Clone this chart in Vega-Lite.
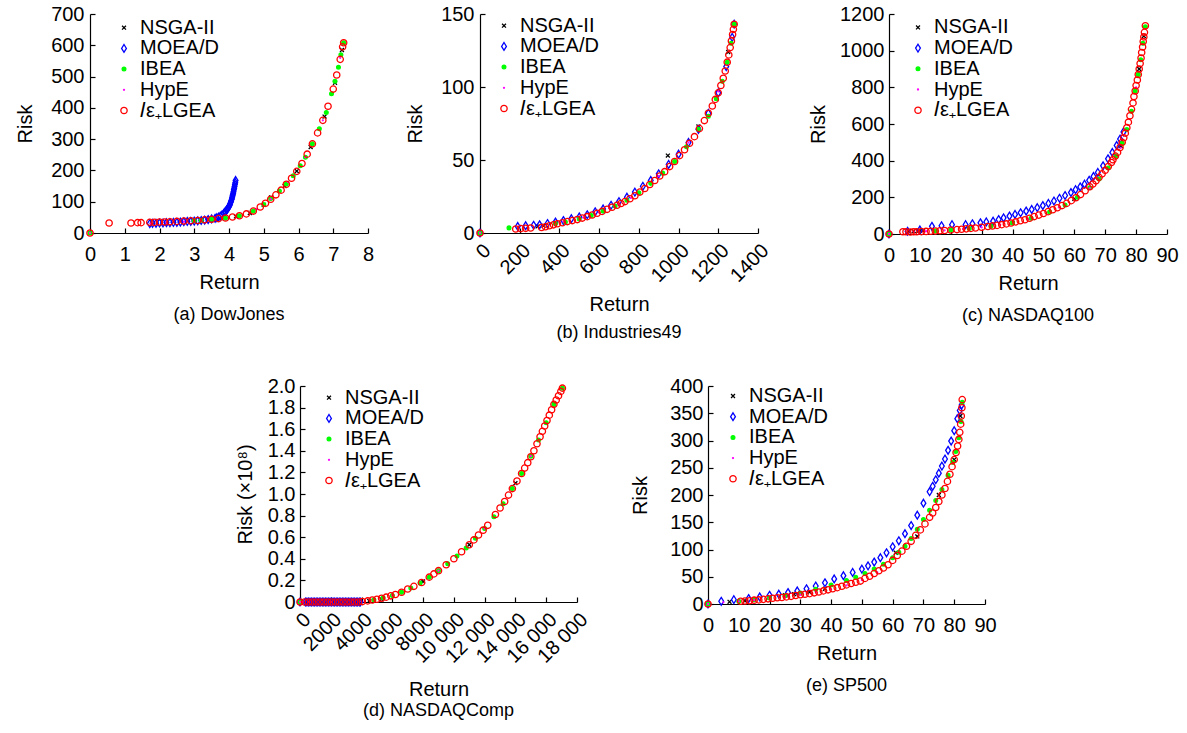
{
"$schema":"https://vega.github.io/schema/vega-lite/v6.json",
"background":"white",
"padding":{"left":15,"top":4,"right":5,"bottom":5},
"config":{
 "font":"Liberation Sans",
 "view":{"stroke":null},
 "axis":{"domainColor":"#000","tickColor":"#000","labelColor":"#000","titleColor":"#000","labelFontSize":20,"titleFontSize":20,"titleFontWeight":"normal","grid":false,"tickSize":-5,"labelFlush":false,"labelOverlap":false,"domainWidth":1.2,"tickWidth":1.2},
 "axisY":{"titlePadding":15,"labelPadding":11},
 "axisX":{"titlePadding":8,"labelPadding":16},
 "title":{"fontSize":18,"fontWeight":"normal","color":"#000","orient":"bottom","offset":14},
 "legend":{"orient":"none","labelFontSize":20,"labelColor":"#000","rowPadding":0.7,"labelOffset":6,"symbolStrokeWidth":1.3,"padding":0},
 "point":{"strokeWidth":1.3,"opacity":1}
},
"datasets":{
"a":[
{"s":"N","x":0,"y":0},{"s":"N","x":3.85,"y":48},{"s":"N","x":4.2,"y":53},{"s":"N","x":4.6,"y":64},{"s":"N","x":5.0,"y":90},{"s":"N","x":5.21,"y":114},{"s":"N","x":5.6,"y":150},{"s":"N","x":5.95,"y":198},{"s":"N","x":6.35,"y":275},{"s":"N","x":6.75,"y":372},{"s":"N","x":7.05,"y":480},{"s":"N","x":7.25,"y":585},
{"s":"M","x":1.72,"y":30},{"s":"M","x":1.8,"y":31},{"s":"M","x":1.9,"y":31},{"s":"M","x":2.0,"y":32},{"s":"M","x":2.1,"y":32},{"s":"M","x":2.2,"y":33},{"s":"M","x":2.3,"y":33},{"s":"M","x":2.4,"y":34},{"s":"M","x":2.5,"y":34},{"s":"M","x":2.6,"y":35},{"s":"M","x":2.7,"y":36},{"s":"M","x":2.8,"y":37},{"s":"M","x":2.9,"y":37},{"s":"M","x":3.0,"y":38},{"s":"M","x":3.1,"y":39},{"s":"M","x":3.2,"y":40},{"s":"M","x":3.3,"y":41},{"s":"M","x":3.4,"y":43},{"s":"M","x":3.5,"y":45},{"s":"M","x":3.6,"y":47},{"s":"M","x":3.65,"y":49},{"s":"M","x":3.7,"y":51},{"s":"M","x":3.75,"y":54},{"s":"M","x":3.8,"y":58},{"s":"M","x":3.85,"y":63},{"s":"M","x":3.88,"y":66},{"s":"M","x":3.9,"y":69},{"s":"M","x":3.93,"y":73},{"s":"M","x":3.95,"y":76},{"s":"M","x":3.98,"y":81},{"s":"M","x":4.0,"y":85},{"s":"M","x":4.02,"y":89},{"s":"M","x":4.03,"y":93},{"s":"M","x":4.05,"y":98},{"s":"M","x":4.06,"y":102},{"s":"M","x":4.08,"y":108},{"s":"M","x":4.09,"y":113},{"s":"M","x":4.1,"y":118},{"s":"M","x":4.11,"y":122},{"s":"M","x":4.12,"y":127},{"s":"M","x":4.13,"y":132},{"s":"M","x":4.14,"y":138},{"s":"M","x":4.15,"y":143},{"s":"M","x":4.16,"y":149},{"s":"M","x":4.17,"y":155},{"s":"M","x":4.18,"y":161},{"s":"M","x":4.19,"y":168},
{"s":"I","x":0,"y":0},{"s":"I","x":3.0,"y":39},{"s":"I","x":3.2,"y":41},{"s":"I","x":3.5,"y":44},{"s":"I","x":3.9,"y":48},{"s":"I","x":4.3,"y":55},{"s":"I","x":4.7,"y":70},{"s":"I","x":5.0,"y":91},{"s":"I","x":5.2,"y":110},{"s":"I","x":5.45,"y":134},{"s":"I","x":5.65,"y":157},{"s":"I","x":5.85,"y":183},{"s":"I","x":6.05,"y":215},{"s":"I","x":6.2,"y":242},{"s":"I","x":6.4,"y":285},{"s":"I","x":6.6,"y":333},{"s":"I","x":6.8,"y":385},{"s":"I","x":6.95,"y":445},{"s":"I","x":7.05,"y":485},{"s":"I","x":7.15,"y":530},{"s":"I","x":7.22,"y":570},{"s":"I","x":7.3,"y":608},
{"s":"H","x":0,"y":0},{"s":"H","x":1.75,"y":30},{"s":"H","x":2.2,"y":33},{"s":"H","x":2.7,"y":36},{"s":"H","x":3.2,"y":40},{"s":"H","x":3.6,"y":44},{"s":"H","x":4.0,"y":49},{"s":"H","x":4.4,"y":57},{"s":"H","x":4.8,"y":76},{"s":"H","x":5.2,"y":108},{"s":"H","x":5.7,"y":163},{"s":"H","x":6.2,"y":242},{"s":"H","x":6.7,"y":360},{"s":"H","x":7.2,"y":560},
{"s":"L","x":0,"y":0},{"s":"L","x":0.55,"y":32},{"s":"L","x":1.18,"y":32},{"s":"L","x":1.37,"y":33},{"s":"L","x":1.47,"y":33},{"s":"L","x":1.72,"y":34},{"s":"L","x":1.85,"y":34},{"s":"L","x":2.0,"y":35},{"s":"L","x":2.15,"y":35},{"s":"L","x":2.3,"y":36},{"s":"L","x":2.5,"y":37},{"s":"L","x":2.7,"y":38},{"s":"L","x":2.9,"y":39},{"s":"L","x":3.1,"y":40},{"s":"L","x":3.3,"y":42},{"s":"L","x":3.5,"y":44},{"s":"L","x":3.7,"y":46},{"s":"L","x":3.9,"y":48},{"s":"L","x":4.1,"y":51},{"s":"L","x":4.3,"y":55},{"s":"L","x":4.5,"y":61},{"s":"L","x":4.7,"y":70},{"s":"L","x":4.9,"y":83},{"s":"L","x":5.05,"y":95},{"s":"L","x":5.2,"y":108},{"s":"L","x":5.35,"y":122},{"s":"L","x":5.5,"y":137},{"s":"L","x":5.65,"y":156},{"s":"L","x":5.8,"y":175},{"s":"L","x":5.95,"y":197},{"s":"L","x":6.1,"y":222},{"s":"L","x":6.25,"y":252},{"s":"L","x":6.4,"y":285},{"s":"L","x":6.55,"y":320},{"s":"L","x":6.7,"y":360},{"s":"L","x":6.85,"y":405},{"s":"L","x":7.0,"y":460},{"s":"L","x":7.1,"y":505},{"s":"L","x":7.2,"y":555},{"s":"L","x":7.27,"y":595},{"s":"L","x":7.3,"y":608}
],
"b":[
{"s":"N","x":0,"y":0},{"s":"N","x":290,"y":4.5},{"s":"N","x":320,"y":5},{"s":"N","x":946,"y":53},{"s":"N","x":1100,"y":73},{"s":"N","x":1250,"y":124},
{"s":"M","x":0,"y":0},{"s":"M","x":190,"y":4.5},{"s":"M","x":230,"y":5},{"s":"M","x":270,"y":5.3},{"s":"M","x":300,"y":5.6},{"s":"M","x":340,"y":6.5},{"s":"M","x":380,"y":7.5},{"s":"M","x":420,"y":8.5},{"s":"M","x":460,"y":9.8},{"s":"M","x":500,"y":11},{"s":"M","x":540,"y":12.5},{"s":"M","x":580,"y":14.5},{"s":"M","x":620,"y":16.5},{"s":"M","x":660,"y":19},{"s":"M","x":700,"y":21.5},{"s":"M","x":740,"y":24.5},{"s":"M","x":780,"y":28},{"s":"M","x":820,"y":32},{"s":"M","x":860,"y":36},{"s":"M","x":900,"y":40.5},{"s":"M","x":950,"y":47},{"s":"M","x":1000,"y":54},{"s":"M","x":1050,"y":62},{"s":"M","x":1100,"y":71},{"s":"M","x":1150,"y":82},{"s":"M","x":1200,"y":96},{"s":"M","x":1240,"y":114},{"s":"M","x":1270,"y":134},{"s":"M","x":1280,"y":143},
{"s":"I","x":0,"y":0},{"s":"I","x":146,"y":3.5},{"s":"I","x":380,"y":6.5},{"s":"I","x":430,"y":7.5},{"s":"I","x":500,"y":9.6},{"s":"I","x":560,"y":12},{"s":"I","x":620,"y":15},{"s":"I","x":680,"y":18.5},{"s":"I","x":740,"y":22.5},{"s":"I","x":800,"y":27.5},{"s":"I","x":860,"y":34},{"s":"I","x":920,"y":41},{"s":"I","x":980,"y":49},{"s":"I","x":1040,"y":59},{"s":"I","x":1100,"y":71},{"s":"I","x":1150,"y":80},{"s":"I","x":1190,"y":92},{"s":"I","x":1220,"y":104},{"s":"I","x":1245,"y":117},{"s":"I","x":1265,"y":130},{"s":"I","x":1280,"y":143},
{"s":"H","x":0,"y":0},{"s":"H","x":420,"y":7.8},{"s":"H","x":520,"y":10.5},{"s":"H","x":600,"y":14},{"s":"H","x":650,"y":17},{"s":"H","x":700,"y":20},{"s":"H","x":760,"y":24},{"s":"H","x":900,"y":39},{"s":"H","x":1050,"y":62},{"s":"H","x":1200,"y":97},
{"s":"L","x":0,"y":0},{"s":"L","x":180,"y":2.7},{"s":"L","x":205,"y":3},{"s":"L","x":230,"y":3.2},{"s":"L","x":255,"y":3.4},{"s":"L","x":310,"y":3.8},{"s":"L","x":330,"y":4.3},{"s":"L","x":350,"y":5},{"s":"L","x":370,"y":5.6},{"s":"L","x":390,"y":6.3},{"s":"L","x":415,"y":7},{"s":"L","x":440,"y":7.8},{"s":"L","x":465,"y":8.5},{"s":"L","x":490,"y":9.2},{"s":"L","x":515,"y":10.2},{"s":"L","x":540,"y":11.2},{"s":"L","x":565,"y":12.3},{"s":"L","x":590,"y":13.5},{"s":"L","x":615,"y":14.8},{"s":"L","x":640,"y":16.2},{"s":"L","x":665,"y":17.6},{"s":"L","x":690,"y":19},{"s":"L","x":710,"y":20.2},{"s":"L","x":730,"y":21.5},{"s":"L","x":755,"y":23.5},{"s":"L","x":780,"y":25.5},{"s":"L","x":805,"y":28},{"s":"L","x":830,"y":30.5},{"s":"L","x":855,"y":33.2},{"s":"L","x":880,"y":36},{"s":"L","x":905,"y":39},{"s":"L","x":930,"y":42},{"s":"L","x":955,"y":45.5},{"s":"L","x":980,"y":49},{"s":"L","x":1005,"y":53},{"s":"L","x":1030,"y":57},{"s":"L","x":1055,"y":61.5},{"s":"L","x":1080,"y":66},{"s":"L","x":1105,"y":71.5},{"s":"L","x":1130,"y":77},{"s":"L","x":1150,"y":82},{"s":"L","x":1170,"y":87},{"s":"L","x":1185,"y":91.5},{"s":"L","x":1200,"y":96},{"s":"L","x":1213,"y":101},{"s":"L","x":1225,"y":106},{"s":"L","x":1235,"y":111},{"s":"L","x":1245,"y":117},{"s":"L","x":1253,"y":122},{"s":"L","x":1260,"y":127},{"s":"L","x":1266,"y":131.5},{"s":"L","x":1272,"y":136},{"s":"L","x":1276,"y":139.5},{"s":"L","x":1280,"y":143}
],
"c":[
{"s":"N","x":0,"y":0},{"s":"N","x":6.4,"y":15},{"s":"N","x":8,"y":16},{"s":"N","x":9.5,"y":16},{"s":"N","x":11,"y":18},{"s":"N","x":40,"y":62},{"s":"N","x":60,"y":192},{"s":"N","x":75,"y":480},{"s":"N","x":81,"y":900},{"s":"N","x":82.5,"y":1080},
{"s":"M","x":0,"y":0},{"s":"M","x":6,"y":15},{"s":"M","x":10,"y":22},{"s":"M","x":13.9,"y":42},{"s":"M","x":17,"y":45},{"s":"M","x":20.4,"y":51},{"s":"M","x":24.8,"y":51},{"s":"M","x":27,"y":56},{"s":"M","x":29.6,"y":61},{"s":"M","x":31.5,"y":66},{"s":"M","x":33.7,"y":70},{"s":"M","x":35.5,"y":79},{"s":"M","x":37.1,"y":88},{"s":"M","x":39,"y":98},{"s":"M","x":40.8,"y":107},{"s":"M","x":42.6,"y":116},{"s":"M","x":44.4,"y":125},{"s":"M","x":46.2,"y":134},{"s":"M","x":48,"y":144},{"s":"M","x":49.8,"y":155},{"s":"M","x":51.6,"y":167},{"s":"M","x":53.4,"y":180},{"s":"M","x":55.2,"y":195},{"s":"M","x":57,"y":210},{"s":"M","x":58.9,"y":226},{"s":"M","x":60.4,"y":242},{"s":"M","x":61.9,"y":257},{"s":"M","x":63.3,"y":272},{"s":"M","x":64.8,"y":293},{"s":"M","x":66.2,"y":314},{"s":"M","x":67.6,"y":336},{"s":"M","x":69.3,"y":372},{"s":"M","x":70.9,"y":410},{"s":"M","x":72.3,"y":445},{"s":"M","x":73.7,"y":483},{"s":"M","x":74.8,"y":518},{"s":"M","x":75.9,"y":557},
{"s":"I","x":0,"y":0},{"s":"I","x":15,"y":16},{"s":"I","x":20,"y":22},{"s":"I","x":26,"y":30},{"s":"I","x":33,"y":42},{"s":"I","x":40,"y":60},{"s":"I","x":46,"y":86},{"s":"I","x":52,"y":120},{"s":"I","x":57,"y":158},{"s":"I","x":61,"y":200},{"s":"I","x":65,"y":252},{"s":"I","x":68,"y":300},{"s":"I","x":71,"y":360},{"s":"I","x":73.5,"y":425},{"s":"I","x":75.5,"y":495},{"s":"I","x":77,"y":570},{"s":"I","x":78.5,"y":670},{"s":"I","x":79.7,"y":780},{"s":"I","x":80.7,"y":870},{"s":"I","x":81.5,"y":950},{"s":"I","x":82.2,"y":1040},{"s":"I","x":83,"y":1130},
{"s":"H","x":0,"y":0},{"s":"H","x":8,"y":13},{"s":"H","x":12,"y":15},{"s":"H","x":18,"y":20},{"s":"H","x":24,"y":27},{"s":"H","x":30,"y":36},{"s":"H","x":36,"y":50},{"s":"H","x":45,"y":82},{"s":"H","x":55,"y":145},{"s":"H","x":65,"y":250},{"s":"H","x":75,"y":470},{"s":"H","x":80,"y":800},
{"s":"L","x":0,"y":0},{"s":"L","x":4.5,"y":12},{"s":"L","x":5.5,"y":12},{"s":"L","x":6.9,"y":11},{"s":"L","x":8,"y":12},{"s":"L","x":9,"y":12},{"s":"L","x":10.5,"y":13},{"s":"L","x":12,"y":14},{"s":"L","x":13.5,"y":15},{"s":"L","x":15,"y":16},{"s":"L","x":16.5,"y":17.5},{"s":"L","x":18,"y":19},{"s":"L","x":20,"y":21.5},{"s":"L","x":22,"y":24},{"s":"L","x":23.5,"y":26},{"s":"L","x":25,"y":28},{"s":"L","x":26.5,"y":30.5},{"s":"L","x":28,"y":33},{"s":"L","x":30,"y":36.5},{"s":"L","x":32,"y":41},{"s":"L","x":33.5,"y":44},{"s":"L","x":35,"y":47},{"s":"L","x":36.5,"y":51},{"s":"L","x":38,"y":55},{"s":"L","x":39.5,"y":60},{"s":"L","x":41,"y":66},{"s":"L","x":42.5,"y":72},{"s":"L","x":44,"y":78},{"s":"L","x":45.5,"y":86},{"s":"L","x":47,"y":95},{"s":"L","x":48.5,"y":103},{"s":"L","x":50,"y":112},{"s":"L","x":51.5,"y":122},{"s":"L","x":53,"y":132},{"s":"L","x":54.5,"y":143},{"s":"L","x":56,"y":155},{"s":"L","x":57.5,"y":167},{"s":"L","x":59,"y":182},{"s":"L","x":60.5,"y":198},{"s":"L","x":62,"y":215},{"s":"L","x":63.5,"y":236},{"s":"L","x":65,"y":258},{"s":"L","x":66,"y":273},{"s":"L","x":67,"y":290},{"s":"L","x":68,"y":309},{"s":"L","x":69,"y":328},{"s":"L","x":70,"y":348},{"s":"L","x":71,"y":368},{"s":"L","x":72,"y":390},{"s":"L","x":72.5,"y":405},{"s":"L","x":73.3,"y":425},{"s":"L","x":74,"y":445},{"s":"L","x":74.8,"y":472},{"s":"L","x":75.5,"y":500},{"s":"L","x":76,"y":525},{"s":"L","x":76.5,"y":550},{"s":"L","x":77,"y":580},{"s":"L","x":77.5,"y":610},{"s":"L","x":78,"y":645},{"s":"L","x":78.5,"y":680},{"s":"L","x":79,"y":715},{"s":"L","x":79.3,"y":750},{"s":"L","x":79.7,"y":780},{"s":"L","x":80,"y":810},{"s":"L","x":80.4,"y":840},{"s":"L","x":80.7,"y":870},{"s":"L","x":81,"y":900},{"s":"L","x":81.3,"y":930},{"s":"L","x":81.6,"y":960},{"s":"L","x":81.8,"y":990},{"s":"L","x":82.1,"y":1020},{"s":"L","x":82.3,"y":1050},{"s":"L","x":82.5,"y":1075},{"s":"L","x":82.7,"y":1100},{"s":"L","x":83,"y":1136}
],
"d":[
{"s":"N","x":0,"y":0},{"s":"N","x":4500,"y":0.01},{"s":"N","x":5300,"y":0.025},{"s":"N","x":8000,"y":0.19},{"s":"N","x":11000,"y":0.53},{"s":"N","x":14000,"y":1.1},{"s":"N","x":16500,"y":1.83},
{"s":"M","x":0,"y":0},{"s":"M","x":350,"y":0},{"s":"M","x":450,"y":0},{"s":"M","x":550,"y":0},{"s":"M","x":650,"y":0},{"s":"M","x":750,"y":0},{"s":"M","x":850,"y":0},{"s":"M","x":950,"y":0},{"s":"M","x":1050,"y":0},{"s":"M","x":1150,"y":0},{"s":"M","x":1250,"y":0},{"s":"M","x":1350,"y":0},{"s":"M","x":1450,"y":0},{"s":"M","x":1550,"y":0},{"s":"M","x":1650,"y":0},{"s":"M","x":1750,"y":0},{"s":"M","x":1850,"y":0},{"s":"M","x":1950,"y":0},{"s":"M","x":2050,"y":0},{"s":"M","x":2150,"y":0},{"s":"M","x":2250,"y":0},{"s":"M","x":2350,"y":0},{"s":"M","x":2450,"y":0},{"s":"M","x":2550,"y":0},{"s":"M","x":2650,"y":0},{"s":"M","x":2750,"y":0},{"s":"M","x":2850,"y":0},{"s":"M","x":2950,"y":0},{"s":"M","x":3050,"y":0},{"s":"M","x":3150,"y":0},{"s":"M","x":3250,"y":0},{"s":"M","x":3350,"y":0},{"s":"M","x":3450,"y":0},{"s":"M","x":3550,"y":0},{"s":"M","x":3650,"y":0},{"s":"M","x":3750,"y":0},{"s":"M","x":3850,"y":0},{"s":"M","x":3920,"y":0},
{"s":"I","x":0,"y":0},{"s":"I","x":4800,"y":0.02},{"s":"I","x":5400,"y":0.04},{"s":"I","x":6000,"y":0.06},{"s":"I","x":6600,"y":0.09},{"s":"I","x":7200,"y":0.13},{"s":"I","x":7800,"y":0.175},{"s":"I","x":8400,"y":0.23},{"s":"I","x":9000,"y":0.29},{"s":"I","x":9600,"y":0.355},{"s":"I","x":10200,"y":0.425},{"s":"I","x":10800,"y":0.5},{"s":"I","x":11400,"y":0.59},{"s":"I","x":12000,"y":0.68},{"s":"I","x":12600,"y":0.79},{"s":"I","x":13200,"y":0.91},{"s":"I","x":13800,"y":1.05},{"s":"I","x":14400,"y":1.19},{"s":"I","x":15000,"y":1.35},{"s":"I","x":15500,"y":1.5},{"s":"I","x":16000,"y":1.66},{"s":"I","x":16500,"y":1.83},{"s":"I","x":17050,"y":1.98},
{"s":"H","x":0,"y":0},{"s":"H","x":200,"y":0},{"s":"H","x":600,"y":0.0},{"s":"H","x":2000,"y":0},{"s":"H","x":4200,"y":0.005},{"s":"H","x":6000,"y":0.06},{"s":"H","x":9000,"y":0.29},{"s":"H","x":12000,"y":0.68},{"s":"H","x":15000,"y":1.35},
{"s":"L","x":0,"y":0},{"s":"L","x":300,"y":0},{"s":"L","x":550,"y":0},{"s":"L","x":800,"y":0},{"s":"L","x":1050,"y":0},{"s":"L","x":1300,"y":0},{"s":"L","x":1550,"y":0},{"s":"L","x":1800,"y":0},{"s":"L","x":2050,"y":0},{"s":"L","x":2300,"y":0},{"s":"L","x":2550,"y":0},{"s":"L","x":2800,"y":0},{"s":"L","x":3050,"y":0},{"s":"L","x":3300,"y":0},{"s":"L","x":3550,"y":0},{"s":"L","x":3800,"y":0},{"s":"L","x":4050,"y":0.004},{"s":"L","x":4400,"y":0.01},{"s":"L","x":4700,"y":0.018},{"s":"L","x":5000,"y":0.025},{"s":"L","x":5300,"y":0.035},{"s":"L","x":5600,"y":0.045},{"s":"L","x":5900,"y":0.057},{"s":"L","x":6200,"y":0.07},{"s":"L","x":6600,"y":0.09},{"s":"L","x":7000,"y":0.12},{"s":"L","x":7400,"y":0.145},{"s":"L","x":7900,"y":0.18},{"s":"L","x":8400,"y":0.23},{"s":"L","x":8700,"y":0.26},{"s":"L","x":9000,"y":0.29},{"s":"L","x":9500,"y":0.345},{"s":"L","x":10000,"y":0.4},{"s":"L","x":10500,"y":0.465},{"s":"L","x":11000,"y":0.53},{"s":"L","x":11300,"y":0.575},{"s":"L","x":11600,"y":0.62},{"s":"L","x":11900,"y":0.665},{"s":"L","x":12200,"y":0.71},{"s":"L","x":12700,"y":0.81},{"s":"L","x":13000,"y":0.87},{"s":"L","x":13300,"y":0.93},{"s":"L","x":13550,"y":0.99},{"s":"L","x":13800,"y":1.05},{"s":"L","x":14100,"y":1.12},{"s":"L","x":14400,"y":1.19},{"s":"L","x":14600,"y":1.24},{"s":"L","x":14800,"y":1.29},{"s":"L","x":15000,"y":1.345},{"s":"L","x":15200,"y":1.4},{"s":"L","x":15400,"y":1.465},{"s":"L","x":15600,"y":1.53},{"s":"L","x":15750,"y":1.58},{"s":"L","x":15900,"y":1.63},{"s":"L","x":16050,"y":1.68},{"s":"L","x":16200,"y":1.73},{"s":"L","x":16350,"y":1.78},{"s":"L","x":16500,"y":1.83},{"s":"L","x":16650,"y":1.87},{"s":"L","x":16800,"y":1.91},{"s":"L","x":16950,"y":1.95},{"s":"L","x":17050,"y":1.98}
],
"e":[
{"s":"N","x":0,"y":0},{"s":"N","x":7,"y":4},{"s":"N","x":12,"y":6},{"s":"N","x":20,"y":12},{"s":"N","x":25,"y":16},{"s":"N","x":28,"y":18},{"s":"N","x":33,"y":22},{"s":"N","x":38,"y":28},{"s":"N","x":61,"y":94},{"s":"N","x":68,"y":124},{"s":"N","x":75,"y":200},{"s":"N","x":80,"y":265},{"s":"N","x":82,"y":345},
{"s":"M","x":0,"y":0},{"s":"M","x":4.3,"y":5},{"s":"M","x":8.4,"y":8},{"s":"M","x":13.2,"y":10},{"s":"M","x":16.8,"y":13},{"s":"M","x":20,"y":16},{"s":"M","x":23,"y":18},{"s":"M","x":26,"y":21},{"s":"M","x":29,"y":24},{"s":"M","x":32,"y":28},{"s":"M","x":35,"y":33},{"s":"M","x":38,"y":39},{"s":"M","x":41,"y":46},{"s":"M","x":44,"y":52},{"s":"M","x":47,"y":58},{"s":"M","x":50,"y":64},{"s":"M","x":52,"y":70},{"s":"M","x":54,"y":77},{"s":"M","x":56,"y":85},{"s":"M","x":58,"y":94},{"s":"M","x":60,"y":105},{"s":"M","x":62,"y":116},{"s":"M","x":64,"y":129},{"s":"M","x":66,"y":144},{"s":"M","x":68,"y":163},{"s":"M","x":70,"y":185},{"s":"M","x":72,"y":206},{"s":"M","x":73,"y":216},{"s":"M","x":74,"y":228},{"s":"M","x":75,"y":240},{"s":"M","x":76,"y":253},{"s":"M","x":77,"y":266},{"s":"M","x":78,"y":282},{"s":"M","x":79,"y":299},{"s":"M","x":80,"y":318},{"s":"M","x":81,"y":340},{"s":"M","x":81.8,"y":355},{"s":"M","x":82.4,"y":365},
{"s":"I","x":0,"y":0},{"s":"I","x":10,"y":5},{"s":"I","x":15,"y":8},{"s":"I","x":20,"y":11},{"s":"I","x":25,"y":15},{"s":"I","x":30,"y":20},{"s":"I","x":35,"y":27},{"s":"I","x":40,"y":35},{"s":"I","x":45,"y":43},{"s":"I","x":48,"y":49},{"s":"I","x":51,"y":56},{"s":"I","x":54,"y":64},{"s":"I","x":57,"y":73},{"s":"I","x":60,"y":85},{"s":"I","x":62,"y":95},{"s":"I","x":64,"y":106},{"s":"I","x":66,"y":120},{"s":"I","x":68,"y":137},{"s":"I","x":70,"y":155},{"s":"I","x":72,"y":172},{"s":"I","x":74,"y":190},{"s":"I","x":76,"y":210},{"s":"I","x":78,"y":236},{"s":"I","x":79.5,"y":260},{"s":"I","x":80.5,"y":280},{"s":"I","x":81.5,"y":305},{"s":"I","x":82.2,"y":335},{"s":"I","x":82.6,"y":370},
{"s":"H","x":0,"y":0},{"s":"H","x":5,"y":3},{"s":"H","x":10,"y":5},{"s":"H","x":15,"y":7},{"s":"H","x":20,"y":10},{"s":"H","x":25,"y":13},{"s":"H","x":30,"y":17},{"s":"H","x":35,"y":22},{"s":"H","x":40,"y":27},{"s":"H","x":45,"y":34},{"s":"H","x":50,"y":44},{"s":"H","x":55,"y":58},
{"s":"L","x":0,"y":0},{"s":"L","x":10.6,"y":5},{"s":"L","x":12,"y":5.5},{"s":"L","x":13.5,"y":6},{"s":"L","x":15,"y":7},{"s":"L","x":16.5,"y":7.5},{"s":"L","x":18,"y":8.5},{"s":"L","x":19.5,"y":9.5},{"s":"L","x":21,"y":10.5},{"s":"L","x":22.5,"y":11.5},{"s":"L","x":24,"y":12},{"s":"L","x":25.5,"y":13},{"s":"L","x":27,"y":14},{"s":"L","x":28.5,"y":15.5},{"s":"L","x":30,"y":17},{"s":"L","x":31.5,"y":18},{"s":"L","x":33,"y":19},{"s":"L","x":34.5,"y":20.5},{"s":"L","x":36,"y":22},{"s":"L","x":37.5,"y":24},{"s":"L","x":39,"y":26},{"s":"L","x":40.5,"y":28},{"s":"L","x":42,"y":30},{"s":"L","x":43.5,"y":32.5},{"s":"L","x":45,"y":35},{"s":"L","x":46.5,"y":37.5},{"s":"L","x":48,"y":40},{"s":"L","x":49.5,"y":42},{"s":"L","x":51,"y":47},{"s":"L","x":52.5,"y":51},{"s":"L","x":54,"y":56},{"s":"L","x":55.5,"y":61},{"s":"L","x":57,"y":66},{"s":"L","x":58.5,"y":72},{"s":"L","x":60,"y":80},{"s":"L","x":61.5,"y":89},{"s":"L","x":63,"y":97},{"s":"L","x":64.5,"y":106},{"s":"L","x":66,"y":115},{"s":"L","x":67.5,"y":126},{"s":"L","x":69,"y":136},{"s":"L","x":70.5,"y":147},{"s":"L","x":72,"y":159},{"s":"L","x":73,"y":167},{"s":"L","x":74,"y":177},{"s":"L","x":75,"y":188},{"s":"L","x":76,"y":200},{"s":"L","x":77,"y":212},{"s":"L","x":77.8,"y":225},{"s":"L","x":78.6,"y":238},{"s":"L","x":79.3,"y":252},{"s":"L","x":80,"y":265},{"s":"L","x":80.6,"y":278},{"s":"L","x":81.1,"y":290},{"s":"L","x":81.5,"y":302},{"s":"L","x":81.8,"y":315},{"s":"L","x":82.1,"y":330},{"s":"L","x":82.3,"y":345},{"s":"L","x":82.5,"y":360},{"s":"L","x":82.6,"y":375}
]
},
"resolve":{"scale":{"shape":"independent","stroke":"independent","fill":"independent","size":"independent"},"legend":{"shape":"independent","stroke":"independent","fill":"independent","size":"independent"}},
"spacing":34,
"vconcat":[
{"hconcat":[
 {"data":{"name":"a"},"width":278,"height":219,"title":{"text":"(a) DowJones"},
  "mark":{"type":"point","clip":false},
  "encoding":{
   "x":{"field":"x","type":"quantitative","scale":{"domain":[0,8],"nice":false,"zero":false},"axis":{"title":"Return","format":"d","values":[0,1,2,3,4,5,6,7,8]}},
   "y":{"field":"y","type":"quantitative","scale":{"domain":[0,700],"nice":false},"axis":{"title":"Risk","format":"d","values":[0,100,200,300,400,500,600,700]}},
   "shape":{"field":"s","type":"nominal","scale":{"domain":["N","M","I","H","L"],"range":["M-0.8,-0.8L0.8,0.8M-0.8,0.8L0.8,-0.8","M0,-1L0.62,0L0,1L-0.62,0Z","circle","circle","circle"]},"legend":{"title":null,"legendX":24,"legendY":3.7,"labelExpr":"datum.value=='N'?'NSGA-II':datum.value=='M'?'MOEA/D':datum.value=='I'?'IBEA':datum.value=='H'?'HypE':'𝐼ε₊LGEA'"}},
   "stroke":{"field":"s","type":"nominal","scale":{"domain":["N","M","I","H","L"],"range":["#000000","#0000ff","#00ff00","#ff00ff","#ff0000"]},"legend":{"title":null,"legendX":24,"legendY":3.7}},
   "fill":{"field":"s","type":"nominal","scale":{"domain":["N","M","I","H","L"],"range":["transparent","transparent","#00ff00","#ff00ff","transparent"]},"legend":{"title":null,"legendX":24,"legendY":3.7}},
   "size":{"field":"s","type":"nominal","scale":{"type":"ordinal","domain":["N","M","I","H","L"],"range":[24,60,14,1,40]},"legend":{"title":null,"legendX":24,"legendY":3.7}}
  }},
 {"hconcat":[
 {"data":{"name":"b"},"width":278,"height":219,"title":{"text":"(b) Industries49","offset":9},
  "mark":{"type":"point","clip":false},
  "encoding":{
   "x":{"field":"x","type":"quantitative","scale":{"domain":[0,1400],"nice":false,"zero":false},"axis":{"title":"Return","format":"d","values":[0,200,400,600,800,1000,1200,1400],"labelAngle":-45,"labelPadding":12,"titlePadding":9}},
   "y":{"field":"y","type":"quantitative","scale":{"domain":[0,150],"nice":false},"axis":{"title":"Risk","format":"d","values":[0,50,100,150],"titlePadding":15}},
   "shape":{"field":"s","type":"nominal","scale":{"domain":["N","M","I","H","L"],"range":["M-0.8,-0.8L0.8,0.8M-0.8,0.8L0.8,-0.8","M0,-1L0.62,0L0,1L-0.62,0Z","circle","circle","circle"]},"legend":{"title":null,"legendX":14,"legendY":1.7,"labelExpr":"datum.value=='N'?'NSGA-II':datum.value=='M'?'MOEA/D':datum.value=='I'?'IBEA':datum.value=='H'?'HypE':'𝐼ε₊LGEA'"}},
   "stroke":{"field":"s","type":"nominal","scale":{"domain":["N","M","I","H","L"],"range":["#000000","#0000ff","#00ff00","#ff00ff","#ff0000"]},"legend":{"title":null,"legendX":14,"legendY":1.7}},
   "fill":{"field":"s","type":"nominal","scale":{"domain":["N","M","I","H","L"],"range":["transparent","transparent","#00ff00","#ff00ff","transparent"]},"legend":{"title":null,"legendX":14,"legendY":1.7}},
   "size":{"field":"s","type":"nominal","scale":{"type":"ordinal","domain":["N","M","I","H","L"],"range":[24,60,14,1,40]},"legend":{"title":null,"legendX":14,"legendY":1.7}}
  }},
 {"data":{"name":"c"},"width":278,"height":220,"title":{"text":"(c) NASDAQ100"},
  "mark":{"type":"point","clip":false},
  "encoding":{
   "x":{"field":"x","type":"quantitative","scale":{"domain":[0,90],"nice":false,"zero":false},"axis":{"title":"Return","format":"d","values":[0,10,20,30,40,50,60,70,80,90]}},
   "y":{"field":"y","type":"quantitative","scale":{"domain":[0,1200],"nice":false},"axis":{"title":"Risk","format":"d","values":[0,200,400,600,800,1000,1200],"titlePadding":11,"labelPadding":10}},
   "shape":{"field":"s","type":"nominal","scale":{"domain":["N","M","I","H","L"],"range":["M-0.8,-0.8L0.8,0.8M-0.8,0.8L0.8,-0.8","M0,-1L0.62,0L0,1L-0.62,0Z","circle","circle","circle"]},"legend":{"title":null,"legendX":19,"legendY":3.4,"labelExpr":"datum.value=='N'?'NSGA-II':datum.value=='M'?'MOEA/D':datum.value=='I'?'IBEA':datum.value=='H'?'HypE':'𝐼ε₊LGEA'"}},
   "stroke":{"field":"s","type":"nominal","scale":{"domain":["N","M","I","H","L"],"range":["#000000","#0000ff","#00ff00","#ff00ff","#ff0000"]},"legend":{"title":null,"legendX":19,"legendY":3.4}},
   "fill":{"field":"s","type":"nominal","scale":{"domain":["N","M","I","H","L"],"range":["transparent","transparent","#00ff00","#ff00ff","transparent"]},"legend":{"title":null,"legendX":19,"legendY":3.4}},
   "size":{"field":"s","type":"nominal","scale":{"type":"ordinal","domain":["N","M","I","H","L"],"range":[24,60,14,1,40]},"legend":{"title":null,"legendX":19,"legendY":3.4}}
  }}
 ],
 "spacing":35,
 "resolve":{"scale":{"shape":"independent","stroke":"independent","fill":"independent","size":"independent"},"legend":{"shape":"independent","stroke":"independent","fill":"independent","size":"independent"}}
 }
 ],
 "spacing":31,
 "resolve":{"scale":{"shape":"independent","stroke":"independent","fill":"independent","size":"independent"},"legend":{"shape":"independent","stroke":"independent","fill":"independent","size":"independent"}}
},
{"hconcat":[
 {"data":{"values":[]},"width":145,"height":10,"mark":{"type":"point","opacity":0},"encoding":{}},
 {"hconcat":[
 {"data":{"name":"d"},"width":277,"height":216,"title":{"text":"(d) NASDAQComp","offset":3},
  "mark":{"type":"point","clip":false},
  "encoding":{
   "x":{"field":"x","type":"quantitative","scale":{"domain":[0,18000],"nice":false,"zero":false},"axis":{"title":"Return","values":[0,2000,4000,6000,8000,10000,12000,14000,16000,18000],"labelAngle":-45,"labelPadding":12,"titlePadding":13,"labelExpr":"datum.value>=10000?replace(format(datum.value,','),',',' '):format(datum.value,'d')"}},
   "y":{"field":"y","type":"quantitative","scale":{"domain":[0,2],"nice":false},"axis":{"title":"Risk (×10⁸)","titlePadding":12,"labelPadding":10,"values":[0,0.2,0.4,0.6,0.8,1,1.2,1.4,1.6,1.8,2],"labelExpr":"datum.value==0?'0':format(datum.value,'.1f')"}},
   "shape":{"field":"s","type":"nominal","scale":{"domain":["N","M","I","H","L"],"range":["M-0.8,-0.8L0.8,0.8M-0.8,0.8L0.8,-0.8","M0,-1L0.62,0L0,1L-0.62,0Z","circle","circle","circle"]},"legend":{"title":null,"legendX":19,"legendY":1.7,"labelExpr":"datum.value=='N'?'NSGA-II':datum.value=='M'?'MOEA/D':datum.value=='I'?'IBEA':datum.value=='H'?'HypE':'𝐼ε₊LGEA'"}},
   "stroke":{"field":"s","type":"nominal","scale":{"domain":["N","M","I","H","L"],"range":["#000000","#0000ff","#00ff00","#ff00ff","#ff0000"]},"legend":{"title":null,"legendX":19,"legendY":1.7}},
   "fill":{"field":"s","type":"nominal","scale":{"domain":["N","M","I","H","L"],"range":["transparent","transparent","#00ff00","#ff00ff","transparent"]},"legend":{"title":null,"legendX":19,"legendY":1.7}},
   "size":{"field":"s","type":"nominal","scale":{"type":"ordinal","domain":["N","M","I","H","L"],"range":[24,60,14,1,40]},"legend":{"title":null,"legendX":19,"legendY":1.7}}
  }},
 {"data":{"name":"e"},"width":277,"height":218,"title":{"text":"(e) SP500"},
  "mark":{"type":"point","clip":false},
  "encoding":{
   "x":{"field":"x","type":"quantitative","scale":{"domain":[0,90],"nice":false,"zero":false},"axis":{"title":"Return","format":"d","values":[0,10,20,30,40,50,60,70,80,90]}},
   "y":{"field":"y","type":"quantitative","scale":{"domain":[0,400],"nice":false},"axis":{"title":"Risk","format":"d","titlePadding":19,"labelPadding":10,"values":[0,50,100,150,200,250,300,350,400]}},
   "shape":{"field":"s","type":"nominal","scale":{"domain":["N","M","I","H","L"],"range":["M-0.8,-0.8L0.8,0.8M-0.8,0.8L0.8,-0.8","M0,-1L0.62,0L0,1L-0.62,0Z","circle","circle","circle"]},"legend":{"title":null,"legendX":15,"legendY":0,"labelExpr":"datum.value=='N'?'NSGA-II':datum.value=='M'?'MOEA/D':datum.value=='I'?'IBEA':datum.value=='H'?'HypE':'𝐼ε₊LGEA'"}},
   "stroke":{"field":"s","type":"nominal","scale":{"domain":["N","M","I","H","L"],"range":["#000000","#0000ff","#00ff00","#ff00ff","#ff0000"]},"legend":{"title":null,"legendX":15,"legendY":0}},
   "fill":{"field":"s","type":"nominal","scale":{"domain":["N","M","I","H","L"],"range":["transparent","transparent","#00ff00","#ff00ff","transparent"]},"legend":{"title":null,"legendX":15,"legendY":0}},
   "size":{"field":"s","type":"nominal","scale":{"type":"ordinal","domain":["N","M","I","H","L"],"range":[24,60,14,1,40]},"legend":{"title":null,"legendX":15,"legendY":0}}
  }}
 ],
 "spacing":38,
 "resolve":{"scale":{"shape":"independent","stroke":"independent","fill":"independent","size":"independent"},"legend":{"shape":"independent","stroke":"independent","fill":"independent","size":"independent"}}
 }
 ],
 "spacing":0,
 "resolve":{"scale":{"shape":"independent","stroke":"independent","fill":"independent","size":"independent"},"legend":{"shape":"independent","stroke":"independent","fill":"independent","size":"independent"}}
}
]
}
